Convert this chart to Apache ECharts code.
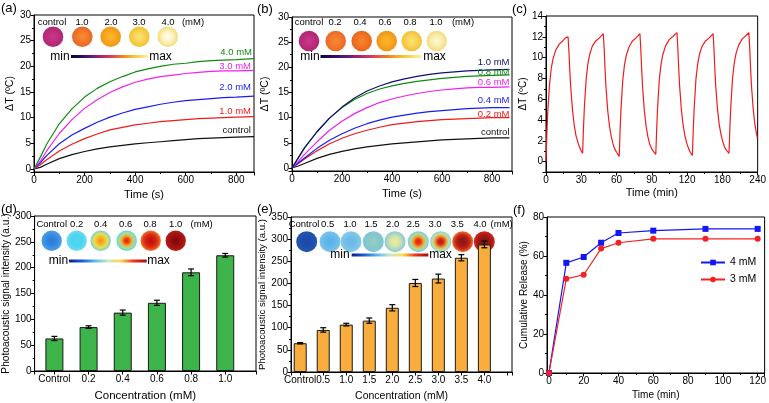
<!DOCTYPE html>
<html>
<head>
<meta charset="utf-8">
<script src="https://cdn.jsdelivr.net/npm/echarts@6/dist/echarts.min.js"></script>
<style>html,body{margin:0;padding:0;background:#fff}#main{width:769px;height:403px}</style>
</head>
<body>
<div id="main"></div>
<script>
var FONT = '"Liberation Sans", Arial, sans-serif';

// (a) heating curves, different concentrations
var timeA = [0, 25, 50, 100, 150, 200, 250, 300, 350, 400, 450, 500, 550, 600, 650, 700, 750, 800, 870];
var a_control = [0, 0.3, 0.9, 2.0, 2.8, 3.4, 3.9, 4.3, 4.6, 4.9, 5.1, 5.3, 5.5, 5.7, 5.9, 6.0, 6.1, 6.2, 6.3];
var a_1mM = [0, 0.8, 1.8, 3.5, 4.8, 5.9, 6.8, 7.6, 8.1, 8.6, 8.9, 9.2, 9.4, 9.6, 9.8, 9.9, 10.0, 10.1, 10.2];
var a_2mM = [0, 1.2, 2.6, 4.9, 6.6, 7.9, 9.1, 10.1, 10.9, 11.6, 12.1, 12.6, 13.0, 13.3, 13.5, 13.7, 13.9, 14.0, 14.2];
var a_3mM = [0, 1.5, 3.5, 6.9, 9.6, 11.8, 13.5, 14.9, 16.0, 16.9, 17.5, 18.0, 18.3, 18.6, 18.8, 19.0, 19.1, 19.1, 19.2];
var a_4mM = [0, 2.3, 4.8, 8.8, 11.7, 14.0, 15.7, 17.0, 18.0, 18.9, 19.5, 20.0, 20.4, 20.6, 20.9, 21.1, 21.2, 21.3, 21.5];

// (b)
var timeB = [0, 25, 50, 100, 150, 200, 250, 300, 350, 400, 450, 500, 550, 600, 650, 700, 750, 800, 870];
var b_control = [0, 0.4, 0.9, 1.9, 2.7, 3.3, 3.8, 4.2, 4.5, 4.8, 5.0, 5.2, 5.4, 5.6, 5.7, 5.8, 5.9, 6.0, 6.0];
var b_02 = [0, 0.9, 1.8, 3.4, 4.8, 5.9, 6.8, 7.5, 8.1, 8.6, 8.9, 9.2, 9.4, 9.6, 9.7, 9.8, 9.9, 10.0, 10.0];
var b_04 = [0, 1.0, 2.0, 3.9, 5.5, 6.8, 7.9, 8.8, 9.5, 10.1, 10.5, 10.9, 11.2, 11.4, 11.6, 11.8, 11.9, 12.0, 12.0];
var b_06 = [0, 1.3, 2.7, 5.2, 7.5, 9.3, 10.8, 12.0, 13.0, 13.7, 14.3, 14.8, 15.2, 15.5, 15.7, 15.9, 16.0, 16.0, 16.1];
var b_08 = [0, 2.0, 4.0, 7.2, 9.9, 12.0, 13.6, 14.8, 15.7, 16.3, 16.8, 17.2, 17.5, 17.8, 18.0, 18.2, 18.3, 18.4, 18.5];
var b_10 = [0, 2.0, 4.0, 7.2, 9.9, 12.1, 13.9, 15.3, 16.3, 17.1, 17.7, 18.2, 18.6, 18.9, 19.1, 19.3, 19.4, 19.5, 19.6];

// (c) on/off cycles
var cTime = [0, 1, 2, 4, 6, 8, 11, 15, 19, 22, 25, 26, 27, 28, 30, 32, 34, 36, 38, 40, 41.5,
  42.5, 43.5, 45.5, 47.5, 49.5, 52.5, 56.5, 60.5, 65, 66, 67, 68, 70, 72, 74, 76, 78, 80, 83,
  84, 85, 87, 89, 91, 94, 98, 102, 106.5, 107.5, 108.5, 109.5, 111.5, 113.5, 115.5, 117.5, 119.5, 121.5, 124.5,
  125.5, 126.5, 128.5, 130.5, 132.5, 135.5, 139.5, 143.5, 148.5, 149.5, 150.5, 151.5, 153.5, 155.5, 157.5, 159.5, 161.5, 163.5, 166,
  167, 168, 170, 172, 174, 177, 181, 185, 189.5, 190.5, 191.5, 192.5, 194.5, 196.5, 198.5, 200.5, 202.5, 204.5, 207.5,
  208.5, 209.5, 211.5, 213.5, 215.5, 218.5, 222.5, 226.5, 230, 231, 232, 233, 235, 237, 239.5];
var cTemp = [0, 2.8, 4.8, 7.4, 9.0, 9.9, 10.7, 11.3, 11.6, 11.9, 12.0, 10.6, 8.7, 7.2, 5.0, 3.5, 2.5, 1.9, 1.4, 1.0, 0.8,
  3.2, 5.2, 7.9, 9.4, 10.3, 11.1, 11.6, 11.9, 12.3, 10.8, 8.8, 7.2, 4.9, 3.4, 2.4, 1.7, 1.2, 0.9, 0.5,
  3.0, 5.0, 7.8, 9.3, 10.2, 11.0, 11.6, 11.9, 12.3, 10.8, 8.8, 7.2, 4.9, 3.4, 2.4, 1.7, 1.3, 1.0, 0.7,
  3.1, 5.1, 7.9, 9.4, 10.3, 11.1, 11.7, 12.0, 12.4, 10.9, 8.9, 7.3, 5.0, 3.5, 2.5, 1.8, 1.3, 0.9, 0.6,
  3.1, 5.1, 7.9, 9.4, 10.3, 11.1, 11.6, 11.9, 12.3, 10.8, 8.8, 7.2, 5.0, 3.5, 2.6, 1.9, 1.4, 1.1, 0.8,
  3.2, 5.2, 8.0, 9.5, 10.4, 11.2, 11.8, 12.1, 12.4, 10.9, 8.9, 7.3, 5.0, 3.5, 2.3];
var cTickLabels = ['0', '30', '60', '90', '120', '180', '240'];

// (d) photoacoustic, low range
var dCats = ['Control', '0.2', '0.4', '0.6', '0.8', '1.0'];
var dVals = [63, 85, 113, 132, 191, 224];
var dErr = [4, 2.5, 5, 5, 6.5, 3.5];

// (e) photoacoustic, wide range
var eCats = ['Control', '0.5', '1.0', '1.5', '2.0', '2.5', '3.0', '3.5', '4.0'];
var eVals = [65, 95, 107, 116, 145, 201, 211, 258, 288];
var eErr = [1.5, 5, 3, 6, 7, 8, 10, 7, 7.5];

// (f) release
var fTime = [0, 10, 20, 30, 40, 60, 90, 120];
var f4mM = [0, 56.5, 59.5, 66.8, 71.8, 73, 73.9, 73.9];
var f3mM = [0, 48.3, 50.4, 63.8, 66.8, 68.8, 68.8, 68.8];

function pairs(xs, ys) { return xs.map(function (x, i) { return [x, ys[i]]; }); }
function idxPairs(ys) { return ys.map(function (y, i) { return [i, y]; }); }
function errData(ys, es) { return ys.map(function (y, i) { return [i, y, es[i]]; }); }

var chart = echarts.init(document.getElementById('main'));

var lbl = { color: '#000', fontSize: 10, fontFamily: FONT, margin: 3 };
var line = { show: true, onZero: false, lineStyle: { color: '#000', width: 1 } };
var tick = { show: true, inside: false, length: 3.5, lineStyle: { color: '#000', width: 1 } };
var minor = { show: true, splitNumber: 2, length: 2, lineStyle: { color: '#000', width: 1 } };
function ns(size) { return { color: '#000', fontSize: size, fontFamily: FONT }; }

function xAx(grid, o) {
  return Object.assign({
    type: 'value', gridIndex: grid, nameLocation: 'middle', nameTextStyle: ns(11),
    axisLine: line, axisTick: tick, minorTick: minor, splitLine: { show: false },
    axisLabel: lbl
  }, o);
}
function yAx(grid, o) {
  return Object.assign({
    type: 'value', gridIndex: grid, nameLocation: 'middle', nameTextStyle: ns(11), nameRotate: 90,
    axisLine: line, axisTick: tick, minorTick: minor, splitLine: { show: false },
    axisLabel: lbl
  }, o);
}
function onlyMult(m) {
  return function (v) { return Math.abs(v / m - Math.round(v / m)) < 1e-6 ? String(v) : ''; };
}
function catFmt(cats) {
  return function (v) { return Math.abs(v - Math.round(v)) < 1e-6 && cats[Math.round(v)] !== undefined ? cats[Math.round(v)] : ''; };
}

function curve(name, xi, xs, ys, color, tag) {
  var s = {
    name: name, type: 'line', xAxisIndex: xi, yAxisIndex: xi, data: pairs(xs, ys),
    showSymbol: false, symbol: 'none', lineStyle: { color: color, width: 1.2 }, itemStyle: { color: color },
    z: 3
  };
  if (tag) {
    s.markPoint = {
      symbol: 'circle', symbolSize: 0, silent: true, animation: false,
      label: { show: true, position: 'left', distance: 0, formatter: tag[0], color: color, fontSize: 9.5, fontFamily: FONT },
      data: [{ coord: [tag[1], tag[2]] }]
    };
  }
  return s;
}

function errBars(xi, ys, es) {
  return {
    type: 'custom', xAxisIndex: xi, yAxisIndex: xi, data: errData(ys, es), z: 5,
    renderItem: function (params, api) {
      var x = api.value(0), y = api.value(1), e = api.value(2);
      var hi = api.coord([x, y + e]), lo = api.coord([x, y - e]);
      var w = 3;
      var st = { stroke: '#000', lineWidth: 1.2 };
      return {
        type: 'group', children: [
          { type: 'line', shape: { x1: hi[0], y1: hi[1], x2: lo[0], y2: lo[1] }, style: st },
          { type: 'line', shape: { x1: hi[0] - w, y1: hi[1], x2: hi[0] + w, y2: hi[1] }, style: st },
          { type: 'line', shape: { x1: lo[0] - w, y1: lo[1], x2: lo[0] + w, y2: lo[1] }, style: st }
        ]
      };
    }
  };
}

// ---------- decorations: sample photos and colour bars ----------
function txt(t, x, y, size, align) {
  return { type: 'text', x: x, y: y, silent: true,
    style: { text: t, fill: '#000', font: size + 'px ' + FONT, align: align || 'center', verticalAlign: 'middle' } };
}
function dot(cx, cy, r, stops) {
  var cs = stops.map(function (c, i) { return { offset: i / (stops.length - 1), color: c }; });
  return { type: 'circle', silent: true, shape: { cx: cx, cy: cy, r: r },
    style: { fill: { type: 'radial', x: 0.5, y: 0.5, r: 0.5, colorStops: cs } } };
}
function cbar(x1, x2, y, stops) {
  var cs = stops.map(function (c, i) { return { offset: i / (stops.length - 1), color: c }; });
  return { type: 'rect', silent: true, shape: { x: x1, y: y - 1.5, width: x2 - x1, height: 3 },
    style: { fill: { type: 'linear', x: 0, y: 0, x2: 1, y2: 0, colorStops: cs } } };
}
var inferno = ['#05053a', '#3a0e6e', '#8a1f7a', '#d8385a', '#f57f22', '#f8c838', '#fbf2a6'];
var jet = ['#0a1c8c', '#1e5cd8', '#58b8f0', '#c8e8c8', '#f8e048', '#f03020', '#a01010'];

var deco = [
  txt('(a)', 1, 8, 13, 'left'), txt('(b)', 257, 9, 13, 'left'), txt('(c)', 512, 9, 13, 'left'),
  txt('(d)', 1, 209, 13, 'left'), txt('(e)', 257, 209, 13, 'left'), txt('(f)', 513, 210, 13, 'left')
];
// (a)
[['control', 52], ['1.0', 82], ['2.0', 111], ['3.0', 139], ['4.0', 168], ['(mM)', 193]].forEach(function (p) { deco.push(txt(p[0], p[1], 22.5, 9.5)); });
deco.push(dot(53, 36.7, 10.3, ['#c83a8a', '#be2f7e', '#b02672']));
deco.push(dot(82.3, 36.7, 10.3, ['#f78c38', '#f27a2a', '#e4682a']));
deco.push(dot(110.7, 36.7, 10.3, ['#fcb830', '#f9a81c', '#f09618']));
deco.push(dot(139.3, 36.7, 10.3, ['#fbe47a', '#f8d454', '#f3c232']));
deco.push(dot(167.7, 36.7, 10.3, ['#fefcee', '#fbf4c4', '#f3dc78']));
deco.push(txt('min', 60, 56.5, 12), cbar(71, 148, 56.5, inferno), txt('max', 160.5, 56.5, 12));
// (b)
[['control', 309], ['0.2', 335], ['0.4', 360], ['0.6', 385], ['0.8', 410], ['1.0', 436], ['(mM)', 463]].forEach(function (p) { deco.push(txt(p[0], p[1], 22.5, 9.5)); });
deco.push(dot(309, 41, 10.3, ['#c83a8a', '#be2f7e', '#b02672']));
deco.push(dot(335.7, 41, 10.3, ['#f78a36', '#f37a2a', '#e66a28']));
deco.push(dot(361.7, 41, 10.3, ['#f78530', '#f37622', '#e6661e']));
deco.push(dot(386.7, 41, 10.3, ['#fbb630', '#f8a820', '#ee9418']));
deco.push(dot(411.7, 41, 10.3, ['#fbe27a', '#f8d456', '#f2c036']));
deco.push(dot(436.7, 41, 10.3, ['#fdf8d8', '#f9eeb0', '#f2dc80']));
deco.push(txt('min', 310, 56.5, 12), cbar(320.5, 421.5, 56.5, inferno), txt('max', 434.5, 56.5, 12));
// (d)
[['Control', 51.7], ['0.2', 76.7], ['0.4', 100.7], ['0.6', 125.7], ['0.8', 150], ['1.0', 175.7], ['(mM)', 201.7]].forEach(function (p) { deco.push(txt(p[0], p[1], 224, 9.5)); });
deco.push(dot(51.7, 240.7, 10.2, ['#2e78dc', '#3486e0', '#48a0e8']));
deco.push(dot(76.7, 240.7, 10.2, ['#50d8f0', '#48d4f0', '#70dcf0']));
deco.push(dot(100.7, 240.7, 10.2, ['#f08a20', '#f2b428', '#e8e050', '#70d0e0']));
deco.push(dot(126.7, 240.7, 10.2, ['#e01c10', '#ee4818', '#f0b030', '#a0e0a0', '#60d0e8']));
deco.push(dot(150.7, 240.7, 10.2, ['#b81010', '#c81a10', '#e03018', '#f07828']));
deco.push(dot(175.7, 240.7, 10.2, ['#800808', '#900c0c', '#a41210', '#b81c14']));
deco.push(txt('min', 58.5, 261, 12), cbar(69, 146.7, 261, jet), txt('max', 158.5, 261, 12));
// (e)
[['Control', 304], ['0.5', 327.7], ['1.0', 350], ['1.5', 371], ['2.0', 392.7], ['2.5', 413.3], ['3.0', 435], ['3.5', 457.3], ['4.0', 480], ['(mM)', 501.7]].forEach(function (p) { deco.push(txt(p[0], p[1], 224, 9.5)); });
deco.push(dot(306.7, 241.7, 10.5, ['#1a48a8', '#1e4eac', '#2456b0']));
deco.push(dot(330, 241.7, 10.5, ['#58b0e8', '#62b8ea', '#7cc4ea']));
deco.push(dot(351, 241.7, 10.5, ['#68b8e8', '#72bee8', '#88cae8']));
deco.push(dot(373.3, 241.7, 10.5, ['#98d0c0', '#88c8c8', '#80c4d8']));
deco.push(dot(395, 241.7, 10.5, ['#f0ec98', '#d0e4a8', '#88c8d8']));
deco.push(dot(418.3, 241.7, 10.5, ['#e81818', '#ec3a18', '#f0a828', '#a8dcb0', '#78c8e0']));
deco.push(dot(440.7, 241.7, 10.5, ['#b81c20', '#d02418', '#f08828', '#c8e098', '#80d0e0']));
deco.push(dot(462.7, 241.7, 10.5, ['#8a1418', '#981818', '#c42418', '#f07028']));
deco.push(dot(484.3, 241.7, 10.5, ['#801014', '#8c1414', '#a81818', '#d02a18']));
deco.push(txt('min', 340, 255, 12), cbar(351.7, 428.3, 255, jet), txt('max', 440.5, 255, 12));

var option = {
  animation: false,
  backgroundColor: '#fff',
  textStyle: { fontFamily: FONT },
  grid: [
    { left: 34, top: 15, width: 220, height: 157 },
    { left: 292, top: 17, width: 220, height: 154 },
    { left: 546, top: 16, width: 218, height: 156 },
    { left: 32, top: 216, width: 224, height: 156 },
    { left: 291, top: 217, width: 221, height: 155 },
    { left: 547, top: 217, width: 220, height: 156 }
  ].map(function (g) { return Object.assign({ show: true, borderColor: '#000', borderWidth: 1, containLabel: false, backgroundColor: 'transparent' }, g); }),
  xAxis: [
    xAx(0, { min: 0, max: 870, interval: 200, name: 'Time (s)', nameGap: 17, axisLabel: Object.assign({}, lbl, { formatter: onlyMult(200) }) }),
    xAx(1, { min: 0, max: 880, interval: 200, name: 'Time (s)', nameGap: 17, axisLabel: Object.assign({}, lbl, { formatter: onlyMult(200) }) }),
    xAx(2, { min: 0, max: 240, interval: 40, name: 'Time (min)', nameGap: 15, axisLabel: Object.assign({}, lbl, { formatter: function (v) { return cTickLabels[Math.round(v / 40)]; } }) }),
    xAx(3, { min: -0.58, max: 5.9, splitNumber: 6, name: 'Concentration (mM)', nameGap: 19, nameTextStyle: ns(11.5), minorTick: { show: false }, axisLabel: Object.assign({}, lbl, { formatter: catFmt(dCats) }) }),
    xAx(4, { min: -0.4, max: 9.2, splitNumber: 9, name: 'Concentration (mM)', nameGap: 19, nameTextStyle: ns(10.5), minorTick: { show: false }, axisLabel: Object.assign({}, lbl, { formatter: catFmt(eCats) }) }),
    xAx(5, { min: -1.1, max: 124, splitNumber: 6, name: 'Time (min)', nameGap: 17, nameTextStyle: ns(10), axisLabel: Object.assign({}, lbl, { formatter: onlyMult(20) }) })
  ],
  yAxis: [
    yAx(0, { min: -0.6, max: 30, splitNumber: 6, name: 'ΔT (ºC)', nameGap: 18, nameTextStyle: ns(10.5), axisLabel: Object.assign({}, lbl, { formatter: onlyMult(5) }) }),
    yAx(1, { min: -0.6, max: 30, splitNumber: 6, name: 'ΔT (ºC)', nameGap: 21, nameTextStyle: ns(10.5), axisLabel: Object.assign({}, lbl, { formatter: onlyMult(5) }) }),
    yAx(2, { min: -1, max: 14, splitNumber: 7, name: 'ΔT (ºC)', nameGap: 13, nameTextStyle: ns(10), axisLabel: Object.assign({}, lbl, { formatter: onlyMult(2) }) }),
    yAx(3, { min: 0, max: 300, interval: 50, name: 'Photoacoustic signal intensity (a.u.)', nameGap: 21, nameTextStyle: ns(10.2) }),
    yAx(4, { min: 0, max: 350, interval: 50, name: 'Photoacoustic signal intensity (a.u.)', nameGap: 24, nameTextStyle: ns(9.6) }),
    yAx(5, { min: 0, max: 80, interval: 20, name: 'Cumulative Release (%)', nameGap: 15, nameTextStyle: ns(10) })
  ],
  legend: {
    data: ['4 mM', '3 mM'], orient: 'vertical', left: 700, top: 257, padding: 0, itemWidth: 24, itemHeight: 7, itemGap: 6,
    textStyle: { color: '#000', fontSize: 10.5, fontFamily: FONT }
  },
  graphic: { elements: deco },
  series: [
    curve('a-control', 0, timeA, a_control, '#111111', ['control', 858, 7.5]),
    curve('a-1.0', 0, timeA, a_1mM, '#ee1c1c', ['1.0 mM', 858, 11.3]),
    curve('a-2.0', 0, timeA, a_2mM, '#1c1cee', ['2.0 mM', 858, 15.9]),
    curve('a-3.0', 0, timeA, a_3mM, '#f020f0', ['3.0 mM', 858, 19.9]),
    curve('a-4.0', 0, timeA, a_4mM, '#128a12', ['4.0 mM', 862, 22.8]),

    curve('b-control', 1, timeB, b_control, '#111111', ['control', 870, 7.1]),
    curve('b-0.2', 1, timeB, b_02, '#ee1c1c', ['0.2 mM', 870, 10.75]),
    curve('b-0.4', 1, timeB, b_04, '#1c1cee', ['0.4 mM', 870, 13.5]),
    curve('b-0.6', 1, timeB, b_06, '#f020f0', ['0.6 mM', 870, 17.05]),
    curve('b-0.8', 1, timeB, b_08, '#128a12', ['0.8 mM', 870, 18.9]),
    curve('b-1.0', 1, timeB, b_10, '#101070', ['1.0 mM', 870, 21.0]),

    curve('c', 2, cTime, cTemp, '#ee1c1c'),

    { type: 'bar', xAxisIndex: 3, yAxisIndex: 3, data: idxPairs(dVals), barWidth: 18,
      itemStyle: { color: '#3cb449', borderColor: '#1a1a1a', borderWidth: 1 } },
    errBars(3, dVals, dErr),
    { type: 'bar', xAxisIndex: 4, yAxisIndex: 4, data: idxPairs(eVals), barWidth: 13,
      itemStyle: { color: '#f8ad3c', borderColor: '#1a1a1a', borderWidth: 1 } },
    errBars(4, eVals, eErr),

    { name: '4 mM', type: 'line', xAxisIndex: 5, yAxisIndex: 5, data: pairs(fTime, f4mM),
      symbol: 'rect', symbolSize: 6, lineStyle: { color: '#1515f5', width: 1.2 }, itemStyle: { color: '#1515f5' } },
    { name: '3 mM', type: 'line', xAxisIndex: 5, yAxisIndex: 5, data: pairs(fTime, f3mM),
      symbol: 'circle', symbolSize: 6, lineStyle: { color: '#f52020', width: 1.2 }, itemStyle: { color: '#f52020' } }
  ]
};

chart.setOption(option);
</script>
</body>
</html>
